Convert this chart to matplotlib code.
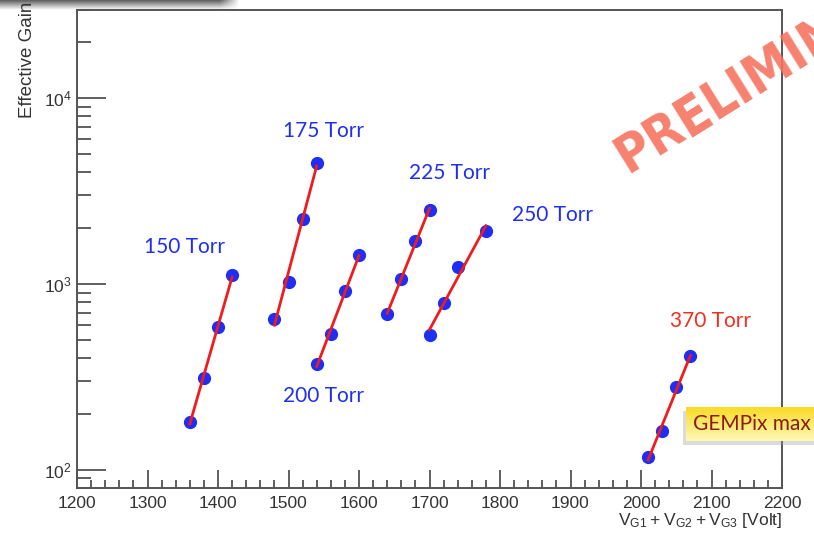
import numpy as np
import matplotlib.pyplot as plt
from matplotlib.ticker import MultipleLocator, LogLocator, NullFormatter

# gain scans, one per gas pressure
v150 = [1360, 1380, 1400, 1420]
g150 = [182, 313, 585, 1115]
v175 = [1480, 1500, 1520, 1540]
g175 = [651, 1030, 2240, 4500]
v200 = [1540, 1560, 1580, 1600]
g200 = [371, 540, 920, 1430]
v225 = [1640, 1660, 1680, 1700]
g225 = [690, 1070, 1710, 2500]
v250 = [1700, 1720, 1740, 1780]
g250 = [532, 787, 1230, 1930]
v370 = [2010, 2030, 2050, 2070]
g370 = [117, 162, 280, 410]

labels = ['150 Torr', '175 Torr', '200 Torr', '225 Torr', '250 Torr', '370 Torr']
label_pos = [(1352, 1581), (1549, 6650), (1549, 250), (1728, 3953), (1874, 2350), (2098, 632)]
label_col = ['#1e2ef5'] * 5 + ['#f0301e']

W, H = 814, 533
plt.rcParams['font.family'] = ['Liberation Sans', 'DejaVu Sans']
plt.rcParams['mathtext.fontset'] = 'custom'
plt.rcParams['mathtext.rm'] = 'Liberation Sans'

fig = plt.figure(figsize=(W / 100, H / 100), dpi=100)
ax = fig.add_axes([77 / W, 1 - 488 / H, (782 - 77) / W, (488 - 9.5) / H])

scans = [(v150, g150), (v175, g175), (v200, g200), (v225, g225), (v250, g250), (v370, g370)]
for v, g in scans:
    v = np.array(v, dtype=float)
    p = np.polyfit(v, np.log10(g), 1)
    ax.plot(v, g, 'o', color='#1e2ef5', ms=8.5, mec='#1e2ef5', zorder=3)
    ax.plot(v, 10 ** np.polyval(p, v), '-', color='#ee1c1c', lw=2, zorder=4)

for t, (x, y), c in zip(labels, label_pos, label_col):
    ax.text(x, y, t, color=c, fontsize=15, family=['Lato', 'DejaVu Sans'],
            ha='center', va='center')

ax.set_yscale('log')
ax.set_xlim(1200, 2200)
ax.set_ylim(80, 30000)
ax.xaxis.set_major_locator(MultipleLocator(100))
ax.xaxis.set_minor_locator(MultipleLocator(20))
ax.set_yticks([100, 1000, 10000], [r'$\mathregular{10^{2}}$', r'$\mathregular{10^{3}}$', r'$\mathregular{10^{4}}$'])
ax.yaxis.set_minor_locator(LogLocator(base=10, subs=np.arange(2, 10)))
ax.yaxis.set_minor_formatter(NullFormatter())

for s in ax.spines.values():
    s.set_color('#555555')
    s.set_linewidth(1.4)
ax.tick_params(which='both', direction='in', colors='#444444', labelcolor='#333333',
               labelsize=12.5, top=False, right=False)
ax.tick_params(axis='x', which='major', length=13, width=1.2, pad=6)
ax.tick_params(axis='x', which='minor', length=6, width=1.2)
ax.tick_params(axis='y', which='major', length=21, width=1.2, pad=4)
ax.tick_params(axis='y', which='minor', length=10, width=1.2)

fig.text(782 / W, 1 - 521 / H, r'$\mathregular{V_{G1} + V_{G2} + V_{G3}}$ [Volt]',
         ha='right', va='center', fontsize=12.5, color='#333333')
fig.text(28 / W, 1 - 118 / H, 'Effective Gain', rotation=90, ha='center', va='bottom',
         fontsize=13.5, color='#333333')

# shadow strip along the top left
sh = fig.add_axes([0, 1 - 10 / H, 240 / W, 10 / H])
rows = np.linspace(0.9, 0.0, 20)[:, None]
cols = np.clip((240 - np.linspace(0, 240, 240)) / 20, 0, 1)[None, :]
img = np.zeros((20, 240, 4))
img[..., :3] = 0.3
img[..., 3] = rows * cols
sh.imshow(img, aspect='auto', extent=[0, 1, 0, 1])
sh.axis('off')

# GEMPix box at the right edge, with a soft shadow
sd = fig.add_axes([683 / W, 1 - 445 / H, (W - 683) / W, 34 / H])
sd.imshow(np.ones((4, 4, 4)) * [0.6, 0.6, 0.6, 0.35], aspect='auto', extent=[0, 1, 0, 1])
sd.axis('off')
bx = fig.add_axes([686 / W, 1 - 441 / H, (W - 686) / W, 34 / H])
grad = np.linspace(0, 1, 30)[:, None]
top = np.array([0.98, 0.86, 0.15])
bot = np.array([1.0, 0.97, 0.72])
box = (top * (1 - grad[..., None]) + bot * grad[..., None]) * np.ones((30, 10, 1))
bx.imshow(box, aspect='auto', extent=[0, 1, 0, 1])
bx.axis('off')
fig.text(693 / W, 1 - 424 / H, 'GEMPix max', ha='left', va='center', fontsize=15,
         color='#8a1c12', family=['Lato', 'DejaVu Sans'])

fig.text(628 / W, 1 - 174 / H, 'PRELIMINARY', rotation=32, rotation_mode='anchor',
         ha='left', va='baseline', fontsize=38, fontweight='heavy', fontstretch='condensed',
         family=['DejaVu Sans'], color='#f7735f',
         alpha=0.9, zorder=10)

fig.savefig('out.png', dpi=100, facecolor='white')
